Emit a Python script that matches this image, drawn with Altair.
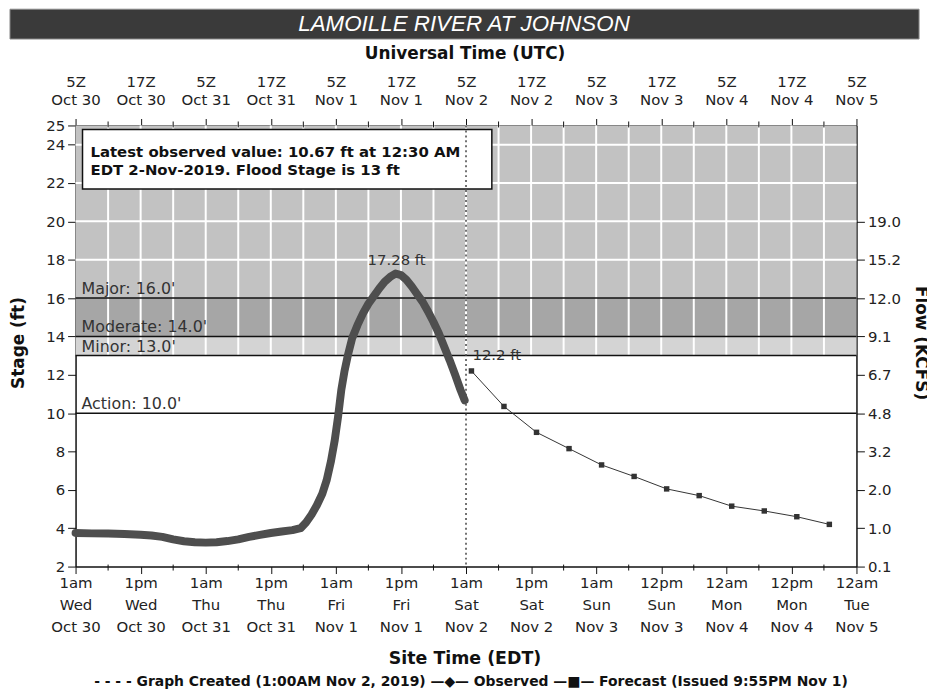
import json
import altair as alt
import pandas as pd

# ---------------- data ----------------
title_text = "LAMOILLE RIVER AT JOHNSON"
top_title = "Universal Time (UTC)"
bottom_title = "Site Time (EDT)"
left_title = "Stage (ft)"
right_title = "Flow (KCFS)"
info_lines = ["Latest observed value: 10.67 ft at 12:30 AM",
              "EDT 2-Nov-2019.  Flood Stage is 13 ft"]
legend_text = "- - - -  Graph Created (1:00AM Nov 2, 2019) —◆— Observed —■— Forecast (Issued 9:55PM Nov 1)"

# hours since 5Z Oct 30 (1am EDT Wed Oct 30)
obs_hours = [0, 3, 6, 9, 12, 14, 16, 18, 20, 22, 24, 26, 28, 30, 32, 34, 36, 38, 40,
             41.5, 42.5, 43.5, 44.5, 45.5, 46.3, 47.1, 47.8, 48.4, 49.0, 49.6, 50.2,
             51.0, 52.0, 53.0, 54.0, 55.0, 56.0, 57.0, 58.0, 59.0, 60.0, 61.0, 62.0,
             63.0, 64.0, 65.0, 66.0, 67.0, 68.0, 69.0, 70.0, 71.0, 71.75]
obs_stage = [3.75, 3.73, 3.72, 3.70, 3.66, 3.62, 3.55, 3.42, 3.32, 3.27, 3.25, 3.27,
             3.33, 3.42, 3.55, 3.65, 3.75, 3.83, 3.90,
             4.0, 4.3, 4.7, 5.2, 5.8, 6.5, 7.5, 8.6, 9.8, 11.2, 12.2, 13.0,
             13.9, 14.6, 15.2, 15.7, 16.1, 16.5, 16.85, 17.1, 17.28, 17.2, 16.95, 16.6,
             16.2, 15.8, 15.3, 14.75, 14.15, 13.45, 12.75, 12.0, 11.2, 10.67]

fc_hours = [73, 79, 85, 91, 97, 103, 109, 115, 121, 127, 133, 139]
fc_stage = [12.2, 10.35, 9.0, 8.15, 7.3, 6.7, 6.05, 5.7, 5.15, 4.9, 4.6, 4.2]

created_hour = [72]
peak_hour = [59.2]
peak_stage = [17.28]
peak_label = ["17.28 ft"]
fc_label = ["12.2 ft"]

flood_names = ["Action", "Minor", "Moderate", "Major"]
flood_stage = [10.0, 13.0, 14.0, 16.0]

band_lo = [13, 14, 16]
band_hi = [14, 16, 25]
band_color = ["#d4d4d4", "#a6a6a6", "#c2c2c2"]

grid_hours = list(range(6, 144, 6))
grid_stage = [18, 20, 22, 24]
minor_tick_hours = list(range(6, 144, 12))

top_labels = ["5Z|Oct 30", "17Z|Oct 30", "5Z|Oct 31", "17Z|Oct 31", "5Z|Nov  1",
              "17Z|Nov  1", "5Z|Nov  2", "17Z|Nov  2", "5Z|Nov  3", "17Z|Nov  3",
              "5Z|Nov  4", "17Z|Nov  4", "5Z|Nov  5"]
bottom_labels = ["1am|Wed|Oct 30", "1pm|Wed|Oct 30", "1am|Thu|Oct 31", "1pm|Thu|Oct 31",
                 "1am|Fri|Nov 1", "1pm|Fri|Nov 1", "1am|Sat|Nov 2", "1pm|Sat|Nov 2",
                 "1am|Sun|Nov 3", "12pm|Sun|Nov 3", "12am|Mon|Nov 4", "12pm|Mon|Nov 4",
                 "12am|Tue|Nov 5"]
stage_ticks = [2, 4, 6, 8, 10, 12, 14, 16, 18, 20, 22, 24, 25]
flow_ticks = [2, 4, 6, 8, 10, 12, 14, 16, 18, 20]
flow_labels = ["0.1", "1.0", "2.0", "3.2", "4.8", "6.7", "9.1", "12.0", "15.2", "19.0"]

# ---------------- chart ----------------
W, H = 786, 444
FONT = "DejaVu Sans"
TICKFS = 15
xsc = alt.Scale(domain=[0, 144], nice=False, zero=False)
ysc = alt.Scale(domain=[2, 25], nice=False, zero=False)

obs_df = pd.DataFrame({"h": obs_hours, "s": obs_stage})
fc_df = pd.DataFrame({"h": fc_hours, "s": fc_stage})
band_df = pd.DataFrame({"lo": band_lo, "hi": band_hi, "c": band_color})
vgrid_df = pd.DataFrame({"h": grid_hours, "lo": 13, "hi": 25})
hgrid_df = pd.DataFrame({"s": grid_stage})
flood_df = pd.DataFrame({"name": flood_names, "s": flood_stage})
flood_df["label"] = [f"{n}: {v:.1f}'" for n, v in zip(flood_names, flood_stage)]
created_df = pd.DataFrame({"h": created_hour})
minor_df = pd.DataFrame({"h": minor_tick_hours})


def Xf(field="h"):
    return alt.X(f"{field}:Q", scale=xsc, axis=None)


def Yf(field="s"):
    return alt.Y(f"{field}:Q", scale=ysc, axis=None)


def label(text, x, y, **kw):
    return alt.Chart(pd.DataFrame({"t": [text]})).mark_text(**kw).encode(
        x=alt.value(x), y=alt.value(y), text="t:N")


bands = alt.Chart(band_df).mark_rect().encode(
    x=alt.value(0), x2=alt.value(W), y=Yf("lo"), y2="hi:Q",
    color=alt.Color("c:N", scale=None))

vgrid = alt.Chart(vgrid_df).mark_rule(color="white", strokeWidth=2).encode(
    x=Xf(), y=Yf("lo"), y2="hi:Q")

hgrid = alt.Chart(hgrid_df).mark_rule(color="white", strokeWidth=2).encode(
    x=alt.value(0), x2=alt.value(W), y=Yf())

flood_lines = alt.Chart(flood_df).mark_rule(color="#111", strokeWidth=1.5).encode(
    x=alt.value(0), x2=alt.value(W), y=Yf())

flood_text = alt.Chart(flood_df).mark_text(
    align="left", baseline="bottom", dy=-1, font=FONT, fontSize=16, color="#333").encode(
    x=alt.value(6), y=Yf(), text="label:N")

info_box = alt.Chart(pd.DataFrame({"k": [0]})).mark_rect(
    fill="white", stroke="#111", strokeWidth=1.5).encode(
    x=alt.value(7), x2=alt.value(419), y=alt.value(4), y2=alt.value(64))

info_style = dict(align="left", baseline="middle", font=FONT, fontSize=15,
                  fontWeight="bold", color="#111")
info_text1 = label(info_lines[0], 15, 27, **info_style)
info_text2 = label(info_lines[1], 15, 45, **info_style)

created = alt.Chart(created_df).mark_rule(
    color="#444", strokeWidth=1.5, strokeDash=[2, 3]).encode(
    x=Xf(), y=alt.value(0), y2=alt.value(H))

obs_axis_x = alt.Axis(
    orient="bottom", values=list(range(0, 145, 12)), title=None, grid=False,
    labelExpr=f"split({json.dumps(bottom_labels)}[round(datum.value/12)], '|')",
    labelFont=FONT, labelFontSize=TICKFS, labelColor="#222", labelLineHeight=22,
    labelAngle=0, labelPadding=2, labelOverlap=False, labelFlush=False,
    tickSize=7, tickColor="#111", domainColor="#111", domainWidth=1.5)
obs_axis_y = alt.Axis(
    orient="left", values=stage_ticks, title=None, grid=False,
    labelFont=FONT, labelFontSize=TICKFS, labelColor="#222", labelPadding=3,
    labelOverlap=False, tickSize=8, tickColor="#111", domainColor="#111", domainWidth=1.5)

observed = alt.Chart(obs_df).mark_line(
    color="#4e4e4e", strokeWidth=8, strokeCap="round", strokeJoin="round").encode(
    x=alt.X("h:Q", scale=xsc, axis=obs_axis_x),
    y=alt.Y("s:Q", scale=ysc, axis=obs_axis_y))

fc_axis_x = alt.Axis(
    orient="top", values=list(range(0, 145, 12)), title=None, grid=False,
    labelExpr=f"split({json.dumps(top_labels)}[round(datum.value/12)], '|')",
    labelFont=FONT, labelFontSize=TICKFS, labelColor="#222", labelLineHeight=18,
    labelAngle=0, labelPadding=29, labelOverlap=False, labelFlush=False,
    tickSize=7, tickColor="#111", domainColor="#111", domainWidth=1.5)
fc_axis_y = alt.Axis(
    orient="right", values=flow_ticks, title=None, grid=False,
    labelExpr=f"{json.dumps(flow_labels)}[round((datum.value-2)/2)]",
    labelFont=FONT, labelFontSize=TICKFS, labelColor="#222", labelPadding=3,
    labelOverlap=False, tickSize=8, tickColor="#111", domainColor="#111", domainWidth=1.5)

forecast_line = alt.Chart(fc_df).mark_line(color="#333", strokeWidth=1).encode(
    x=alt.X("h:Q", scale=xsc, axis=fc_axis_x),
    y=alt.Y("s:Q", scale=ysc, axis=fc_axis_y))
forecast_pts = alt.Chart(fc_df).mark_point(
    shape="square", filled=True, size=30, color="#333", opacity=1).encode(
    x=Xf(), y=Yf())

peak_text = alt.Chart(pd.DataFrame({"h": peak_hour, "s": peak_stage, "t": peak_label})).mark_text(
    baseline="bottom", dy=-6, font=FONT, fontSize=15, color="#333").encode(
    x=Xf(), y=Yf(), text="t:N")
fc_text = alt.Chart(pd.DataFrame({"h": fc_hours[:1], "s": fc_stage[:1], "t": fc_label})).mark_text(
    align="left", baseline="bottom", dy=-8, dx=1, font=FONT, fontSize=15, color="#333").encode(
    x=Xf(), y=Yf(), text="t:N")

minor_bottom = alt.Chart(minor_df).mark_rule(color="#111", strokeWidth=1).encode(
    x=Xf(), y=alt.value(H - 2), y2=alt.value(H + 4))
minor_top = alt.Chart(minor_df).mark_rule(color="#111", strokeWidth=1).encode(
    x=Xf(), y=alt.value(2), y2=alt.value(-4))

title_bar = alt.Chart(pd.DataFrame({"k": [0]})).mark_rect(
    fill="#3a3a3a", stroke="#8a8a8a", strokeWidth=1).encode(
    x=alt.value(-66), x2=alt.value(849), y=alt.value(-117), y2=alt.value(-87))
title_mark = label(title_text, 391, -102, font="Liberation Sans", fontSize=22.5,
                   fontStyle="italic", color="white", baseline="middle")
top_title_mark = label(top_title, 392, -72, font=FONT, fontSize=17, fontWeight="bold",
                       color="#111", baseline="middle")
bottom_title_mark = label(bottom_title, 392, 537, font=FONT, fontSize=17.5, fontWeight="bold",
                          color="#111", baseline="middle")
legend_mark = label(legend_text, 398, 560, font=FONT, fontSize=14, fontWeight="bold",
                    color="#111", baseline="middle")
left_title_mark = label(left_title, -57, 219, font=FONT, fontSize=17, fontWeight="bold",
                        color="#111", angle=270, baseline="middle")
right_title_mark = label(right_title, 851, 219, font=FONT, fontSize=17, fontWeight="bold",
                         color="#111", angle=90, baseline="middle")

chart = alt.layer(
    bands, vgrid, hgrid, flood_lines, flood_text, info_box, info_text1, info_text2, created,
    observed, forecast_line, forecast_pts, peak_text, fc_text, minor_bottom, minor_top,
    title_bar, title_mark, top_title_mark, bottom_title_mark, legend_mark,
    left_title_mark, right_title_mark,
).resolve_axis(x="independent", y="independent").properties(
    width=W, height=H, autosize="none",
    padding={"left": 68, "top": 116, "right": 71, "bottom": 122},
    background="white",
).configure_view(stroke=None).configure_axis(zindex=1)

chart.save("out.html", embed_options={"renderer": "svg", "actions": False})
